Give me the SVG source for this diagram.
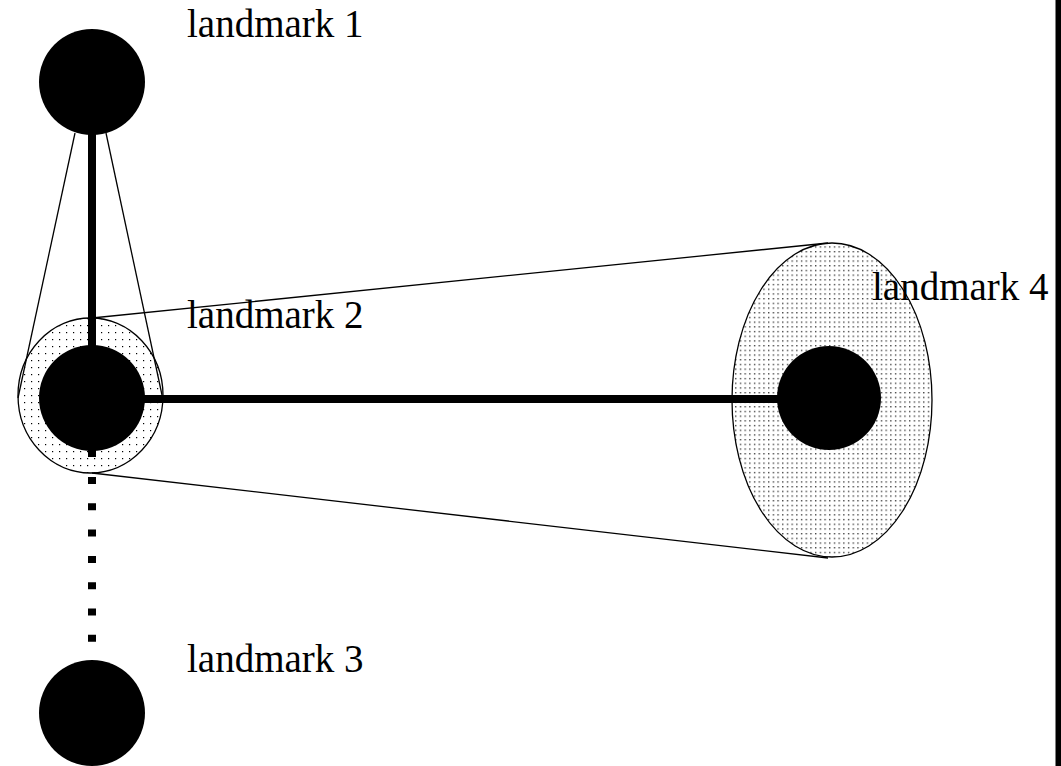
<svg xmlns="http://www.w3.org/2000/svg" width="1061" height="766" viewBox="0 0 1061 766">
<style>
.lbl{font-family:"Liberation Serif","Times New Roman",serif;font-size:39px;fill:#000}
.thin{stroke:#000;stroke-width:1.3;fill:none}
.thick{stroke:#000;stroke-width:8;fill:none}
.dot{stroke:#000;stroke-width:8;fill:none;stroke-dasharray:7 19.3}
.node{fill:#000}
</style>
<defs>
<pattern id="dotsA" width="7" height="7" patternUnits="userSpaceOnUse"><rect x="3" y="3" width="1.2" height="1.2" fill="#000"/></pattern>
<pattern id="dotsB" width="4.7" height="4.7" patternUnits="userSpaceOnUse"><rect x="2" y="2" width="1.2" height="1.2" fill="#000"/></pattern>
</defs>
<rect width="1061" height="766" fill="#fff"/>
<g id="uncertainty">
<ellipse cx="90.5" cy="395.5" rx="72.5" ry="77.5" fill="#fff"/>
<ellipse cx="90.5" cy="395.5" rx="72.5" ry="77.5" class="thin" style="fill:url(#dotsA)"/>
<ellipse cx="832" cy="400" rx="100" ry="157" fill="#fff"/>
<ellipse cx="832" cy="400" rx="100" ry="157" class="thin" style="fill:url(#dotsB)"/>
</g>
<g id="connectors">
<line class="thin" x1="75" y1="133" x2="18" y2="398"/>
<line class="thin" x1="106" y1="133" x2="162" y2="395"/>
<line class="thin" x1="92" y1="318" x2="828" y2="243"/>
<line class="thin" x1="92" y1="473" x2="828" y2="558"/>
<line class="thick" x1="92" y1="130" x2="92" y2="457"/>
<line class="thick" x1="140" y1="399" x2="785" y2="399"/>
<line class="dot" x1="92" y1="477" x2="92" y2="643"/>
</g>
<g id="landmark1">
<circle class="node" cx="92" cy="82" r="53"/>
<text class="lbl" x="187" y="37">landmark 1</text>
</g>
<g id="landmark2">
<circle class="node" cx="92" cy="398" r="53"/>
<text class="lbl" x="187" y="328">landmark 2</text>
</g>
<g id="landmark3">
<circle class="node" cx="92" cy="713" r="53"/>
<text class="lbl" x="187" y="672">landmark 3</text>
</g>
<g id="landmark4">
<circle class="node" cx="829" cy="398" r="52"/>
<text class="lbl" x="872" y="300">landmark 4</text>
</g>
<rect x="1055.5" y="0" width="5.5" height="766" fill="#000"/>
</svg>
